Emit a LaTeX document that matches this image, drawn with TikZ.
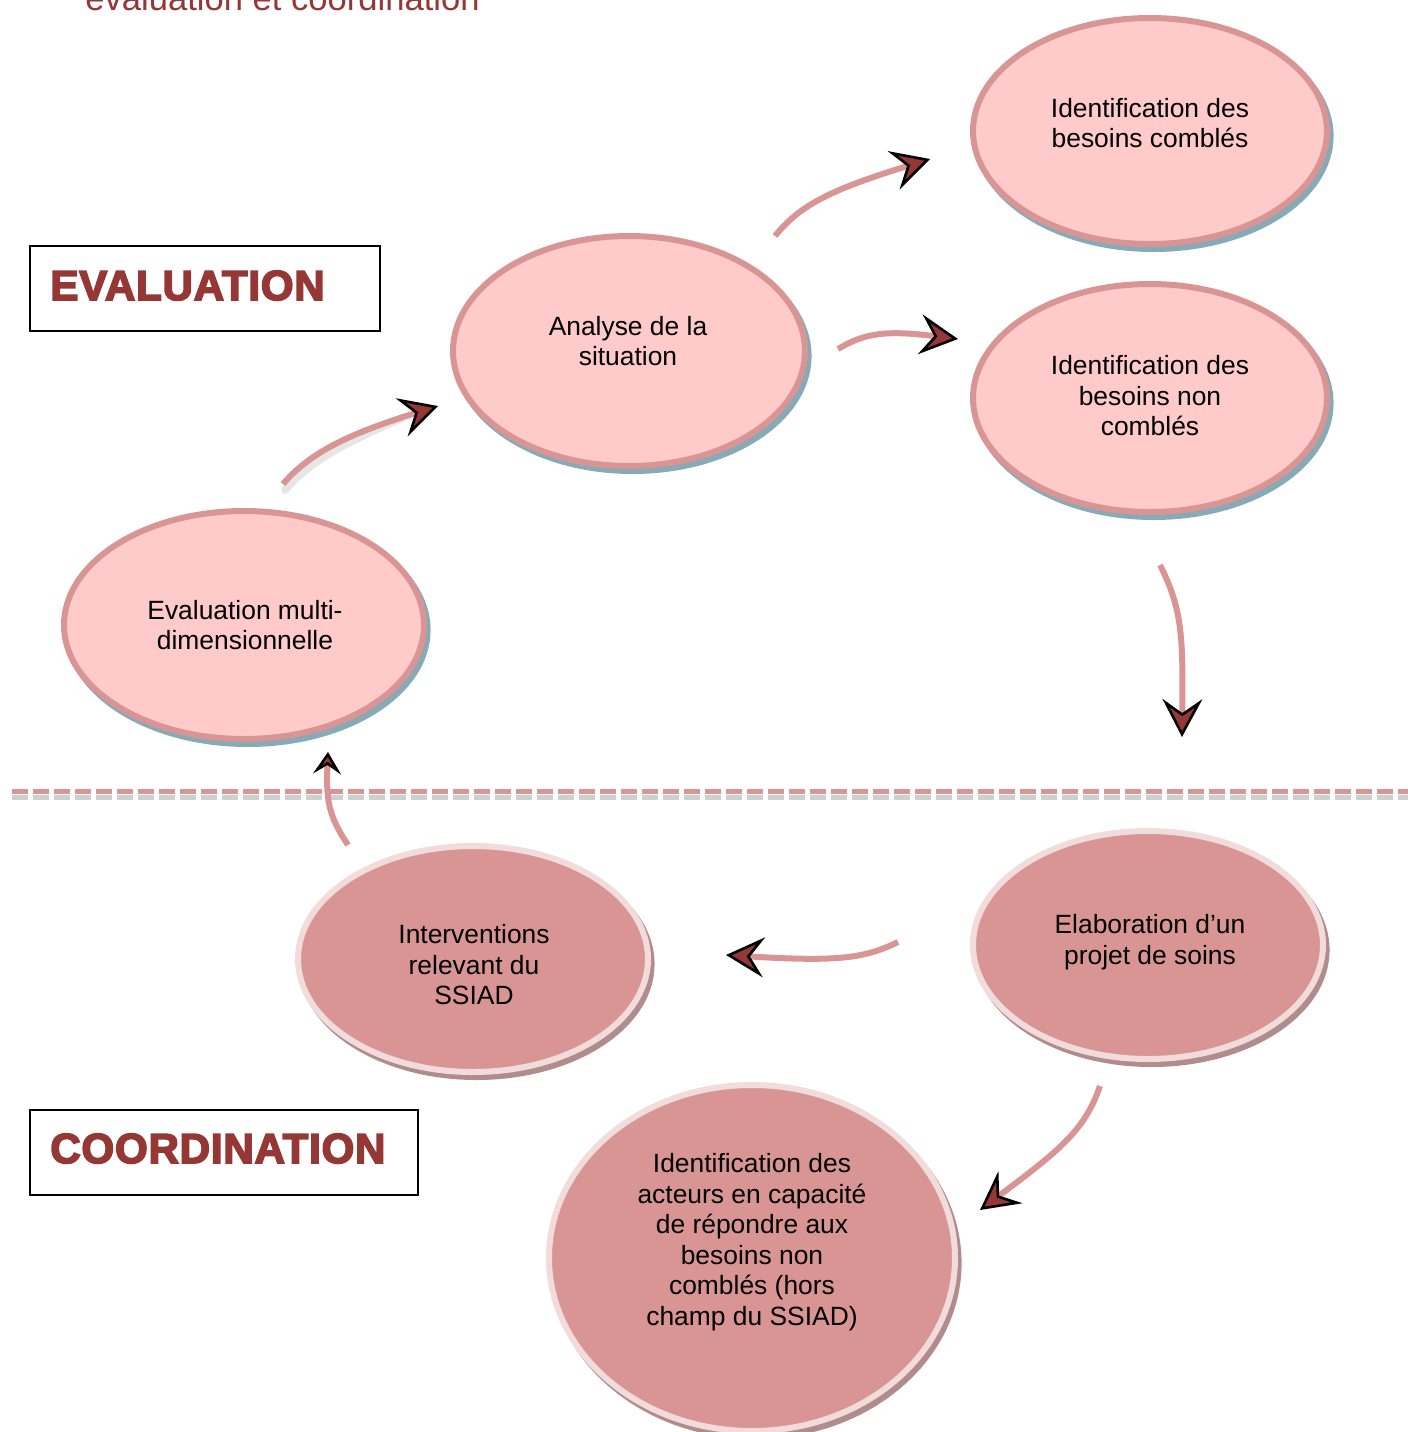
\documentclass[tikz,border=0pt]{standalone}
\usepackage{fontspec}
\setmainfont{Liberation Sans}
\newfontfamily\headfont[FakeBold=4,LetterSpace=2]{Liberation Sans Bold}
\usetikzlibrary{shapes.geometric,arrows.meta,shadows}
\definecolor{darkred}{HTML}{953735}
\definecolor{pinkline}{HTML}{D99594}
\definecolor{lightfill}{HTML}{FECACA}
\definecolor{lightborder}{HTML}{F2DBDB}
\definecolor{blueshadow}{HTML}{86AAB6}
\definecolor{brownshadow}{HTML}{B08C8C}
\definecolor{dashgrey}{HTML}{CFCFCF}
\begin{document}
\begin{tikzpicture}[x=0.5pt,y=-0.5pt,
  topell/.style={ellipse, draw=pinkline, fill=lightfill, line width=3pt, inner sep=0pt,
    drop shadow={shadow xshift=1.8pt, shadow yshift=-2.5pt, fill=blueshadow, draw=blueshadow, line width=3pt, opacity=1}},
  botell/.style={ellipse, draw=lightborder, fill=pinkline, line width=3pt, inner sep=0pt,
    drop shadow={shadow xshift=1.8pt, shadow yshift=-2.5pt, fill=brownshadow, draw=brownshadow, line width=3pt, opacity=1}},
  txt/.style={align=center, font=\fontsize{13.2pt}{15.25pt}\selectfont, inner sep=0pt},
  head/.style={anchor=base west, inner sep=0pt, text=darkred, font=\headfont\fontsize{21pt}{24pt}\selectfont},
  hbox/.style={draw=black, line width=1pt},
  arr/.style={draw=pinkline, line width=3pt,
    -{Stealth[length=19pt, width=20pt, inset=7pt, fill=darkred, color=black, line width=1.3pt]}},
  arrsmall/.style={draw=pinkline, line width=3pt,
    -{Stealth[length=11pt, width=14pt, inset=4.5pt, fill=darkred, color=black, line width=1.3pt]}},
  arrshadow/.style={draw=gray, opacity=0.2, line width=4pt, line cap=round}
]
\useasboundingbox (0,0) rectangle (1408,1432);

% title (cut at the top)
\node[anchor=base west, inner sep=0pt, text=darkred, font=\fontsize{17.3pt}{20pt}\selectfont] (title) at (85,10) {évaluation et coordination};

% heading boxes
\draw[hbox] (30,246) rectangle (380,331);
\node[head] (evalhead) at (50,300) {EVALUATION};
\draw[hbox] (30,1110) rectangle (418,1195);
\node[head] (coordhead) at (50,1163) {COORDINATION};

% dashed separator
\draw[dashgrey, line width=2.6pt, dash pattern=on 8pt off 2.5pt] (12,797.5) -- (1408,797.5);
\draw[pinkline, line width=2.8pt, dash pattern=on 8pt off 2.5pt] (12,791.5) -- (1408,791.5);

% upper ellipses
\node[topell, minimum width=177pt, minimum height=113pt] (e1) at (1150,131) {};
\node[topell, minimum width=177pt, minimum height=114pt] (e2) at (1150,398) {};
\node[topell, minimum width=176pt, minimum height=115pt] (e3) at (629,351) {};
\node[topell, minimum width=180pt, minimum height=114pt] (e4) at (244,625) {};
% lower ellipses
\node[botell, minimum width=175pt, minimum height=113pt] (e5) at (473,959) {};
\node[botell, minimum width=175pt, minimum height=114pt] (e6) at (1148,945) {};
\node[botell, minimum width=203pt, minimum height=173pt] (e7) at (752,1258) {};

% texts
\node[txt] (t1) at (1150,123) {Identification des\\besoins comblés};
\node[txt] (t2) at (1150,396) {Identification des\\besoins non\\comblés};
\node[txt] (t3) at (628,341) {Analyse de la\\situation};
\node[txt] (t4) at (245,625) {Evaluation multi-\\dimensionnelle};
\node[txt] (t5) at (474,965) {Interventions\\relevant du\\SSIAD};
\node[txt] (t6) at (1150,942) {Elaboration d’un\\projet de soins};
\node[txt] (t7) at (752,1242) {Identification des\\acteurs en capacité\\de répondre aux\\besoins non\\comblés (hors\\champ du SSIAD)};

% arrow end points
\coordinate (a1s) at (283,484); \coordinate (a1e) at (438,406);
\coordinate (a2s) at (775,236); \coordinate (a2e) at (930,159);
\coordinate (a3s) at (838,349); \coordinate (a3e) at (958,339);
\coordinate (a4s) at (1160,565); \coordinate (a4e) at (1182,737);
\coordinate (a5s) at (898,942); \coordinate (a5e) at (726,955);
\coordinate (a6s) at (1100,1086); \coordinate (a6e) at (980,1210);
\coordinate (a7s) at (348,845); \coordinate (a7e) at (328,752);

% arrows
\draw[arrshadow] ([shift={(2,6)}]a1s) .. controls (314,456) and (357,438) .. ([shift={(-36,12)}]a1e);
\draw[arr] (a1s) .. controls (312,450) and (355,432) .. (a1e);
\draw[arr] (a2s) .. controls (800,205) and (830,190) .. (a2e);
\draw[arr] (a3s) .. controls (865,333) and (885,330) .. (a3e);
\draw[arr] (a4s) .. controls (1183,610) and (1183,640) .. (a4e);
\draw[arr] (a5s) .. controls (865,958) and (840,962) .. (a5e);
\draw[arr] (a6s) .. controls (1085,1130) and (1060,1150) .. (a6e);
\draw[arrsmall] (a7s) .. controls (328,815) and (326,800) .. (a7e);
\end{tikzpicture}
\end{document}
